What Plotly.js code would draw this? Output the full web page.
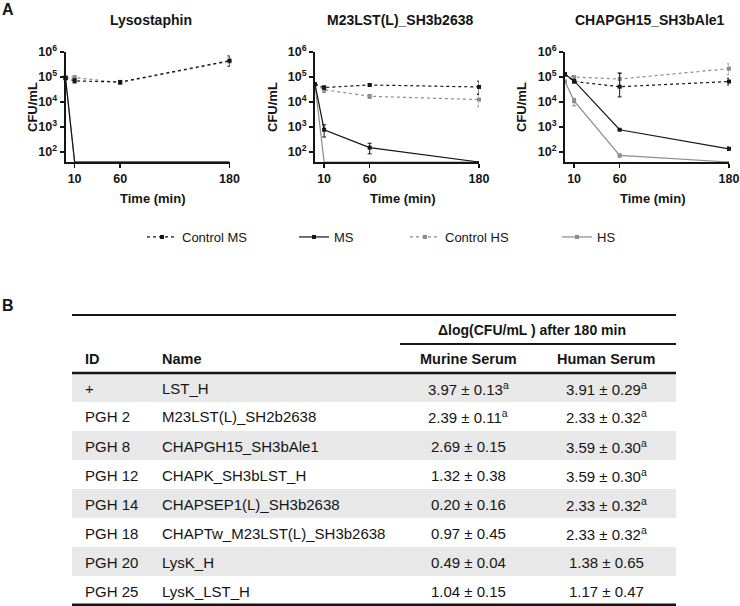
<!DOCTYPE html>
<html><head><meta charset="utf-8">
<script src="https://cdn.plot.ly/plotly-3.0.1.min.js"></script>
<style>html,body{margin:0;padding:0;background:#fff}</style>
</head><body><div id="chart" style="width:740px;height:606px"></div>
<script>
// ---------- data ----------
const times = [0, 10, 60, 180];
const panelTitles = ['Lysostaphin', 'M23LST(L)_SH3b2638', 'CHAPGH15_SH3bAle1'];
const seriesNames = ['Control MS', 'MS', 'Control HS', 'HS'];
const yTickVals = [100, 1000, 10000, 100000, 1000000];
const yTickExp = ['2', '3', '4', '5', '6'];
const xTickVals = [10, 60, 180];

// Lysostaphin
const lyso_ctrlMS = [90000, 70000, 63000, 450000];
const lyso_ctrlMS_up = [0, 15000, 10000, 250000];
const lyso_ctrlMS_dn = [0, 12000, 10000, 180000];
const lyso_MS = [90000, 40, 40, 40];
const lyso_ctrlHS = [100000, 95000, 60000, 420000];
const lyso_ctrlHS_up = [0, 20000, 10000, 200000];
const lyso_ctrlHS_dn = [0, 15000, 10000, 150000];
const lyso_HS = [100000, 40, 40, 40];

// M23LST(L)_SH3b2638
const m23_ctrlMS = [52000, 38000, 48000, 40000];
const m23_ctrlMS_up = [0, 6000, 5000, 28000];
const m23_ctrlMS_dn = [0, 5000, 4000, 20000];
const m23_MS = [52000, 780, 150, 40];
const m23_MS_up = [0, 450, 75, 0];
const m23_MS_dn = [0, 380, 65, 0];
const m23_ctrlHS = [52000, 31000, 17000, 12500];
const m23_ctrlHS_up = [0, 8000, 3000, 10000];
const m23_ctrlHS_dn = [0, 7000, 3000, 6000];
const m23_HS = [52000, 40, 40, 40];

// CHAPGH15_SH3bAle1
const chap_ctrlMS = [130000, 66000, 41000, 66000];
const chap_ctrlMS_up = [0, 8000, 100000, 23000];
const chap_ctrlMS_dn = [0, 8000, 25000, 18000];
const chap_MS = [130000, 70000, 780, 135];
const chap_MS_up = [0, 0, 0, 25];
const chap_MS_dn = [0, 0, 0, 20];
const chap_ctrlHS = [120000, 100000, 83000, 215000];
const chap_ctrlHS_up = [0, 15000, 65000, 120000];
const chap_ctrlHS_dn = [0, 15000, 45000, 90000];
const chap_HS = [66000, 11000, 73, 40];
const chap_HS_up = [0, 3000, 10, 0];
const chap_HS_dn = [0, 4000, 10, 0];

// Table
const tblIds = ['+', 'PGH 2', 'PGH 8', 'PGH 12', 'PGH 14', 'PGH 18', 'PGH 20', 'PGH 25'];
const tblNames = ['LST_H', 'M23LST(L)_SH2b2638', 'CHAPGH15_SH3bAle1', 'CHAPK_SH3bLST_H',
  'CHAPSEP1(L)_SH3b2638', 'CHAPTw_M23LST(L)_SH3b2638', 'LysK_H', 'LysK_LST_H'];
const murineMean = ['3.97', '2.39', '2.69', '1.32', '0.20', '0.97', '0.49', '1.04'];
const murineSD = ['0.13', '0.11', '0.15', '0.38', '0.16', '0.45', '0.04', '0.15'];
const murineSig = [true, true, false, false, false, false, false, false];
const humanMean = ['3.91', '2.33', '3.59', '3.59', '2.33', '2.33', '1.38', '1.17'];
const humanSD = ['0.29', '0.32', '0.30', '0.30', '0.32', '0.32', '0.65', '0.47'];
const humanSig = [true, true, true, true, true, true, false, false];
const tblHeaders = ['ID', 'Name', 'Murine Serum', 'Human Serum'];
const tblGroupHeader = 'Δlog(CFU/mL ) after 180 min';

// ---------- build ----------
const W = 740, H = 606;
const px = x => x / W, py = y => 1 - y / H;
const FONT = 'Liberation Sans, Arial, Helvetica, sans-serif';
const BLACK = '#151515', GRAY = '#8c8c8c';

const panels = [
  {ctrlMS: [lyso_ctrlMS, lyso_ctrlMS_up, lyso_ctrlMS_dn], MS: [lyso_MS, null, null],
   ctrlHS: [lyso_ctrlHS, lyso_ctrlHS_up, lyso_ctrlHS_dn], HS: [lyso_HS, null, null]},
  {ctrlMS: [m23_ctrlMS, m23_ctrlMS_up, m23_ctrlMS_dn], MS: [m23_MS, m23_MS_up, m23_MS_dn],
   ctrlHS: [m23_ctrlHS, m23_ctrlHS_up, m23_ctrlHS_dn], HS: [m23_HS, null, null]},
  {ctrlMS: [chap_ctrlMS, chap_ctrlMS_up, chap_ctrlMS_dn], MS: [chap_MS, chap_MS_up, chap_MS_dn],
   ctrlHS: [chap_ctrlHS, chap_ctrlHS_up, chap_ctrlHS_dn], HS: [chap_HS, chap_HS_up, chap_HS_dn]}
];
const styles = {
  ctrlMS: {name: seriesNames[0], color: BLACK, dash: 'dot', legend: 'legend'},
  MS: {name: seriesNames[1], color: BLACK, dash: 'solid', legend: 'legend2'},
  ctrlHS: {name: seriesNames[2], color: GRAY, dash: 'dot', legend: 'legend3'},
  HS: {name: seriesNames[3], color: GRAY, dash: 'solid', legend: 'legend4'}
};
const xDomains = [[65.5, 229.5], [315, 479], [565, 729]];
const yDomain = [py(162), py(52)];

const traces = [];
panels.forEach((p, i) => {
  const ax = i === 0 ? '' : String(i + 1);
  ['ctrlHS', 'ctrlMS', 'HS', 'MS'].forEach(k => {
    const s = styles[k];
    const [vals, up, dn] = p[k];
    const t = {
      type: 'scatter', mode: 'lines+markers', x: times, y: vals,
      name: s.name, legend: s.legend, showlegend: i === 0,
      xaxis: 'x' + ax, yaxis: 'y' + ax, cliponaxis: false,
      line: {color: s.color, width: 1.2, dash: s.dash},
      marker: {symbol: 'square', size: 4, color: s.color}
    };
    if (up) t.error_y = {type: 'data', symmetric: false, array: up, arrayminus: dn,
      color: s.color, thickness: 1, width: 2};
    traces.push(t);
  });
});

const layout = {
  width: W, height: H, margin: {l: 0, r: 0, t: 0, b: 0},
  paper_bgcolor: '#fff', plot_bgcolor: 'rgba(0,0,0,0)',
  font: {family: FONT, color: BLACK},
  annotations: [], shapes: []
};
const legendX = [142, 294, 405, 557];
['legend', 'legend2', 'legend3', 'legend4'].forEach((lg, j) => {
  layout[lg] = {x: px(legendX[j]), y: py(237), xanchor: 'left', yanchor: 'middle',
    orientation: 'h', bgcolor: 'rgba(0,0,0,0)', borderwidth: 0,
    font: {size: 13, family: FONT, color: BLACK}, itemwidth: 30};
});

const subTitleX = [151, 400, 650];
const yTitleX = [33, 273, 522];
const xTitleX = [153, 403, 653];
xDomains.forEach((d, i) => {
  const ax = i === 0 ? '' : String(i + 1);
  layout['xaxis' + ax] = {
    domain: [px(d[0]), px(d[1])], range: [0, 180], anchor: 'y' + ax,
    tickvals: xTickVals, ticktext: xTickVals.map(v => '<b>' + v + '</b>'),
    ticks: 'outside', ticklen: 4, tickwidth: 1.5, tickcolor: BLACK,
    showline: true, linecolor: BLACK, linewidth: 2, showgrid: false, zeroline: false,
    tickfont: {size: 12.5, family: FONT, color: BLACK}
  };
  layout['yaxis' + ax] = {
    domain: yDomain, type: 'log', range: [Math.log10(40), 6], anchor: 'x' + ax,
    tickvals: yTickVals, ticktext: yTickExp.map(e => '<b>10<sup>' + e + '</sup></b>'),
    ticks: 'outside', ticklen: 4, tickwidth: 1.5, tickcolor: BLACK,
    showline: true, linecolor: BLACK, linewidth: 2, showgrid: false, zeroline: false,
    tickfont: {size: 12.5, family: FONT, color: BLACK}
  };
  layout.annotations.push({text: '<b>' + panelTitles[i] + '</b>', xref: 'paper', yref: 'paper',
    x: px(subTitleX[i]), y: py(20), xanchor: 'center', yanchor: 'middle', showarrow: false,
    font: {size: 14, family: FONT, color: BLACK}});
  layout.annotations.push({text: '<b>CFU/mL</b>', xref: 'paper', yref: 'paper', textangle: -90,
    x: px(yTitleX[i]), y: py(107), xanchor: 'center', yanchor: 'middle', showarrow: false,
    font: {size: 13, family: FONT, color: BLACK}});
  layout.annotations.push({text: '<b>Time (min)</b>', xref: 'paper', yref: 'paper',
    x: px(xTitleX[i]), y: py(199), xanchor: 'center', yanchor: 'middle', showarrow: false,
    font: {size: 13, family: FONT, color: BLACK}});
});
// panel letters
[['A', 8, 10], ['B', 8, 305]].forEach(([t, x, y]) => layout.annotations.push({
  text: '<b>' + t + '</b>', xref: 'paper', yref: 'paper', x: px(x), y: py(y),
  xanchor: 'center', yanchor: 'middle', showarrow: false, font: {size: 16, family: FONT, color: BLACK}}));

// ---------- table ----------
const tL = 72, tR = 676, topLine = 315, groupLine = 344, headLine = 373, rowH = 29;
const colX = [83, 160, 468, 606];
const colAnchor = ['left', 'left', 'center', 'center'];
// shading
tblIds.forEach((id, r) => {
  if (r % 2 === 0) layout.shapes.push({type: 'rect', xref: 'paper', yref: 'paper', layer: 'below',
    x0: px(tL), x1: px(tR), y0: py(headLine + r * rowH), y1: py(headLine + (r + 1) * rowH),
    fillcolor: '#e8e8e8', line: {width: 0}});
});
const hline = (x0, x1, y, w) => layout.shapes.push({type: 'line', xref: 'paper', yref: 'paper',
  x0: px(x0), x1: px(x1), y0: py(y), y1: py(y), line: {color: BLACK, width: w}});
hline(tL, tR, topLine, 2);
hline(400, tR, groupLine, 2);
hline(tL, tR, headLine, 2.5);
hline(tL, tR, headLine + tblIds.length * rowH, 3);

const addCell = (text, c, y, bold) => layout.annotations.push({
  text: bold ? '<b>' + text + '</b>' : text, xref: 'paper', yref: 'paper',
  x: px(colX[c]), y: py(y), xanchor: colAnchor[c], yanchor: 'middle', showarrow: false,
  font: {size: bold ? 14.5 : 15, family: FONT, color: BLACK}});
layout.annotations.push({text: '<b>' + tblGroupHeader + '</b>', xref: 'paper', yref: 'paper',
  x: px(532), y: py(330), xanchor: 'center', yanchor: 'middle', showarrow: false,
  font: {size: 14, family: FONT, color: BLACK}});
tblHeaders.forEach((h, c) => addCell(h, c, 359, true));
tblIds.forEach((id, r) => {
  const yc = headLine + r * rowH + 15;
  addCell(id, 0, yc);
  addCell(tblNames[r], 1, yc);
  addCell(murineMean[r] + ' ± ' + murineSD[r] + (murineSig[r] ? '<sup>a</sup>' : ''), 2, yc);
  addCell(humanMean[r] + ' ± ' + humanSD[r] + (humanSig[r] ? '<sup>a</sup>' : ''), 3, yc);
});

Plotly.newPlot('chart', traces, layout, {staticPlot: true, displayModeBar: false});
</script></body></html>
